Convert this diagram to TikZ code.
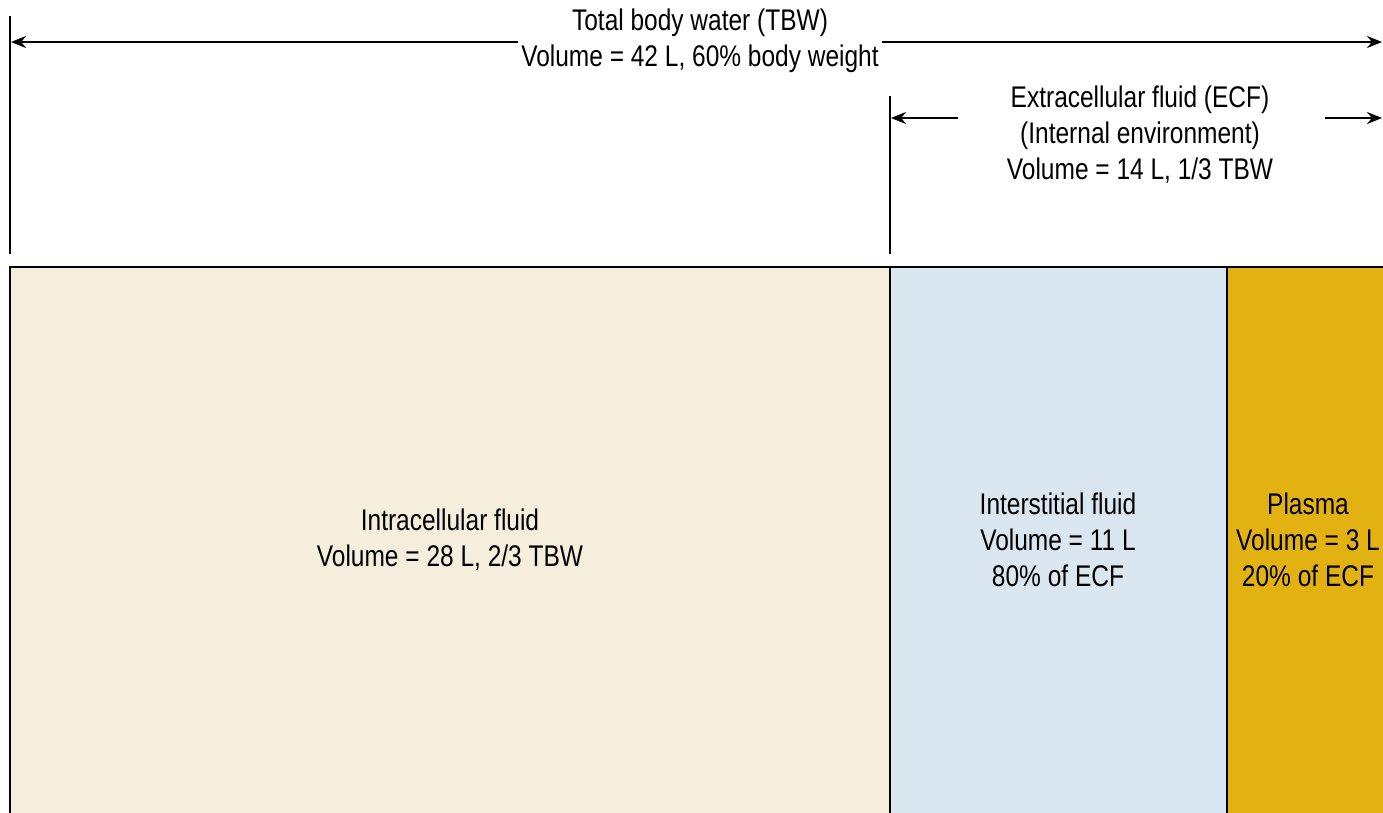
\documentclass[tikz,border=0pt]{standalone}
\usepackage{fontspec}
\setmainfont[FakeStretch=0.82]{Liberation Sans}
\usetikzlibrary{positioning,arrows.meta}
\definecolor{icfcol}{HTML}{F5EEDD}
\definecolor{isfcol}{HTML}{DAE6F0}
\definecolor{plcol}{HTML}{E2B212}

\begin{document}
\begin{tikzpicture}[x=0.02cm,y=-0.02cm,>={Stealth[length=0.3cm,width=0.24cm]},line width=1.3pt,
  lbl/.style={align=center,font=\fontsize{17}{20.5}\selectfont,inner sep=1pt},
  comp/.style={draw,line width=1.3pt}]

\useasboundingbox (0,0) rectangle (1383,812);
\clip (0,0) rectangle (1383,812);

% compartments
\draw[comp,fill=icfcol](10,267) rectangle (890,840);
\draw[comp,fill=isfcol](890,267) rectangle (1227,840);
\draw[comp,fill=plcol](1227,267) rectangle (1420,840);

\node[lbl](icf) at (450,540){Intracellular fluid\\Volume = 28 L, 2/3 TBW};
\node[lbl](isf) at (1058,540){Interstitial fluid\\Volume = 11 L\\80\% of ECF};
\node[lbl](pl) at (1308,540){Plasma\\Volume = 3 L\\20\% of ECF};

% total body water
\coordinate(tbwtop) at (10,16);
\coordinate(tbwbot) at (10,254);
\coordinate(tbwl) at (11,42);
\coordinate(tbwr) at (1382,42);
\node[lbl](tbw) at (700,41){Total body water (TBW)\\Volume = 42 L, 60\% body weight};
\draw (tbwtop)--(tbwbot);
\draw[->] (tbw.west|-tbwl) -- (tbwl);
\draw[->] (tbw.east|-tbwr) -- (tbwr);

% extracellular fluid
\coordinate(ecftop) at (890,96);
\coordinate(ecfbot) at (890,254);
\coordinate(ecfl) at (891,118);
\coordinate(ecfr) at (1382,118);
\node[lbl](ecf) at (1140,135){Extracellular fluid (ECF)\\(Internal environment)\\Volume = 14 L, 1/3 TBW};
\draw (ecftop)--(ecfbot);
\draw[->] (958,118) -- (ecfl);
\draw[->] (1325,118) -- (ecfr);

\end{tikzpicture}
\end{document}
